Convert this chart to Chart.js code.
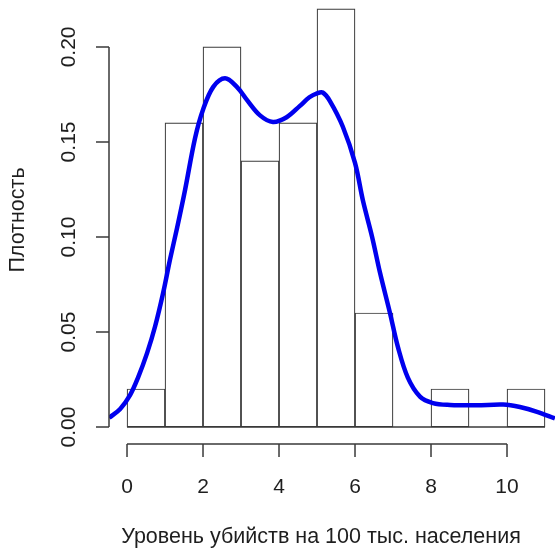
<!DOCTYPE html>
<html>

<head>
    <title>Плотность</title>
    <script src="https://cdn.jsdelivr.net/npm/chart.js@4.4.1/dist/chart.umd.min.js"></script>
    <style>
        html, body { margin: 0; padding: 0; background: #fff; }
        #wrap { width: 555px; height: 551px; }
    </style>
</head>

<body>
    <div id="wrap">
        <canvas id="hist" width="555" height="551"></canvas>
    </div>
    <script>
        // Гистограмма: границы интервалов и плотность
        var binEdges = [0, 1, 2, 3, 4, 5, 6, 7, 8, 9, 10, 11];
        var binDensity = [0.02, 0.16, 0.20, 0.14, 0.16, 0.22, 0.06, 0.00, 0.02, 0.00, 0.02];

        // Ядерная оценка плотности
        var kdeX = [-0.47, -0.18, 0.08, 0.29, 0.53, 0.74, 0.95, 1.13, 1.32, 1.53, 1.79, 2.0, 2.27, 2.58, 2.89,
            3.16, 3.5, 3.84, 4.2, 4.55, 4.8, 5.0, 5.15, 5.34, 5.68, 6.0, 6.21, 6.45, 6.66, 6.92, 7.13, 7.39,
            7.71, 8.05, 8.5, 9.2, 9.9, 10.34, 10.79, 11.26];
        var kdeY = [0.0048, 0.0095, 0.0168, 0.026, 0.039, 0.053, 0.0705, 0.088, 0.105, 0.125, 0.152, 0.167, 0.179, 0.1835, 0.179,
            0.172, 0.164, 0.1605, 0.163, 0.169, 0.1735, 0.1756, 0.176, 0.1715, 0.158, 0.139, 0.119, 0.1, 0.081, 0.06, 0.042, 0.026,
            0.016, 0.0126, 0.0116, 0.0114, 0.0118, 0.0105, 0.008, 0.0045];

        // Подписи осей
        var xTicks = [0, 2, 4, 6, 8, 10];
        var yTicks = [0, 0.05, 0.10, 0.15, 0.20];
        var xTitle = 'Уровень убийств на 100 тыс. населения';
        var yTitle = 'Плотность';

        var barPoints = binDensity.map(function (d, i) {
            return { x: (binEdges[i] + binEdges[i + 1]) / 2, y: d };
        });
        var kdePoints = kdeX.map(function (x, i) {
            return { x: x, y: kdeY[i] };
        });

        var FONT = '21px "Liberation Sans", Arial, sans-serif';
        var TITLE_FONT = '21.5px "Liberation Sans", Arial, sans-serif';
        var INK = '#1e1e1e';
        var LINE = '#3a3a3a';

        // Оси в стиле R: линия только от первого до последнего деления
        var rAxes = {
            id: 'rAxes',
            afterDraw: function (chart) {
                var ctx = chart.ctx;
                var xs = chart.scales.x, ys = chart.scales.y;
                var area = chart.chartArea;
                ctx.save();
                ctx.strokeStyle = LINE;
                ctx.lineWidth = 1.5;
                ctx.fillStyle = INK;
                ctx.font = FONT;

                // нулевая линия под пустыми интервалами
                var y0 = ys.getPixelForValue(0);
                ctx.beginPath();
                ctx.moveTo(xs.getPixelForValue(binEdges[0]), y0);
                ctx.lineTo(xs.getPixelForValue(binEdges[binEdges.length - 1]), y0);
                ctx.stroke();

                // ось Y
                var ax = area.left;
                ctx.beginPath();
                ctx.moveTo(ax, ys.getPixelForValue(yTicks[0]));
                ctx.lineTo(ax, ys.getPixelForValue(yTicks[yTicks.length - 1]));
                yTicks.forEach(function (v) {
                    var py = ys.getPixelForValue(v);
                    ctx.moveTo(ax, py);
                    ctx.lineTo(ax - 13, py);
                });
                ctx.stroke();
                ctx.textAlign = 'center';
                ctx.textBaseline = 'middle';
                yTicks.forEach(function (v) {
                    var py = ys.getPixelForValue(v);
                    ctx.save();
                    ctx.translate(69, py);
                    ctx.rotate(-Math.PI / 2);
                    ctx.fillText(v.toFixed(2), 0, 0);
                    ctx.restore();
                });

                // ось X
                var ay = area.bottom;
                ctx.beginPath();
                ctx.moveTo(xs.getPixelForValue(xTicks[0]), ay);
                ctx.lineTo(xs.getPixelForValue(xTicks[xTicks.length - 1]), ay);
                xTicks.forEach(function (v) {
                    var px = xs.getPixelForValue(v);
                    ctx.moveTo(px, ay);
                    ctx.lineTo(px, ay + 13);
                });
                ctx.stroke();
                xTicks.forEach(function (v) {
                    ctx.fillText(String(v), xs.getPixelForValue(v), ay + 43);
                });

                // названия осей
                ctx.font = TITLE_FONT;
                ctx.fillText(xTitle, 321, 537);
                ctx.save();
                ctx.translate(18, 220);
                ctx.rotate(-Math.PI / 2);
                ctx.fillText(yTitle, 0, 0);
                ctx.restore();
                ctx.restore();
            }
        };

        var chart = new Chart(document.getElementById('hist').getContext('2d'), {
            type: 'bar',
            data: {
                datasets: [{
                    type: 'line',
                    data: kdePoints,
                    borderColor: '#0000ee',
                    borderWidth: 4.5,
                    pointRadius: 0,
                    tension: 0.35,
                    fill: false,
                    order: 0
                }, {
                    type: 'bar',
                    data: barPoints,
                    backgroundColor: '#ffffff',
                    borderColor: LINE,
                    borderWidth: 1.2,
                    borderSkipped: false,
                    barPercentage: 1,
                    categoryPercentage: 1,
                    order: 1
                }]
            },
            options: {
                responsive: false,
                animation: false,
                layout: { padding: { left: 109, right: 0, top: 0, bottom: 107 } },
                plugins: { legend: { display: false }, tooltip: { enabled: false } },
                scales: {
                    x: {
                        type: 'linear',
                        display: false,
                        offset: false,
                        min: -0.474,
                        max: 11.263,
                        ticks: { stepSize: 2, includeBounds: false }
                    },
                    y: {
                        display: false,
                        min: -0.00895,
                        max: 0.2247,
                        ticks: { includeBounds: false }
                    }
                }
            },
            plugins: [rAxes]
        });
    </script>
</body>

</html>
